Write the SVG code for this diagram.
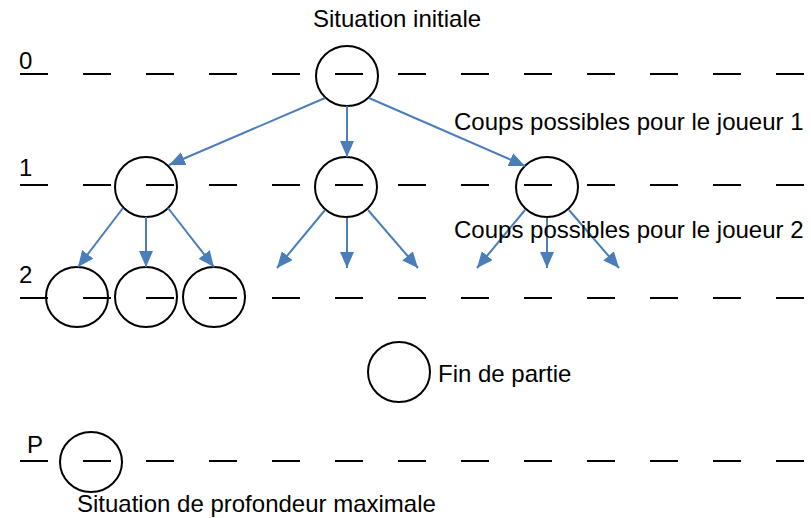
<svg xmlns="http://www.w3.org/2000/svg" width="811" height="518" viewBox="0 0 811 518">
  <style>
    .lvl { stroke: #000; stroke-width: 2; stroke-dasharray: 28 35; fill: none; }
    .node { fill: none; stroke: #000; stroke-width: 2; }
    .edge { stroke: #4A7EBB; stroke-width: 2; fill: none; marker-end: url(#arrow); }
    text { font-family: "Liberation Sans", Arial, sans-serif; font-size: 24px; fill: #000; }
  </style>
  <defs>
    <marker id="arrow" markerUnits="userSpaceOnUse" markerWidth="16" markerHeight="14" refX="16" refY="7" orient="auto">
      <path d="M0,0 L16,7 L0,14 z" fill="#4A7EBB"/>
    </marker>
  </defs>
  <rect width="811" height="518" fill="#fff"/>

  <!-- depth levels -->
  <g id="levels">
    <line class="lvl" x1="20" y1="74" x2="806" y2="74"/>
    <line class="lvl" x1="20" y1="185" x2="806" y2="185"/>
    <line class="lvl" x1="20" y1="298" x2="806" y2="298"/>
    <line class="lvl" x1="20" y1="461" x2="806" y2="461"/>
    <text x="19" y="69">0</text>
    <text x="19" y="176">1</text>
    <text x="19" y="283">2</text>
    <text x="27" y="453">P</text>
  </g>

  <!-- game tree nodes -->
  <g id="root"><ellipse class="node" cx="347" cy="76" rx="31" ry="30"/></g>
  <g id="n1a"><ellipse class="node" cx="146" cy="187" rx="31" ry="30"/></g>
  <g id="n1b"><ellipse class="node" cx="346" cy="187" rx="31" ry="30"/></g>
  <g id="n1c"><ellipse class="node" cx="547" cy="187" rx="31" ry="30"/></g>
  <g id="n2a"><ellipse class="node" cx="77" cy="297" rx="31" ry="30"/></g>
  <g id="n2b"><ellipse class="node" cx="146" cy="297" rx="31" ry="30"/></g>
  <g id="n2c"><ellipse class="node" cx="214" cy="297" rx="31" ry="30"/></g>
  <g id="end"><ellipse class="node" cx="399" cy="372" rx="31" ry="30"/></g>
  <g id="maxdepth"><ellipse class="node" cx="91" cy="462" rx="31" ry="30"/></g>

  <!-- moves -->
  <g id="edges">
    <line class="edge" x1="325" y1="98" x2="169" y2="165"/>
    <line class="edge" x1="347" y1="106" x2="347" y2="157"/>
    <line class="edge" x1="369" y1="98" x2="525" y2="166"/>

    <line class="edge" x1="123" y1="208" x2="78" y2="267"/>
    <line class="edge" x1="146" y1="217" x2="146" y2="267"/>
    <line class="edge" x1="168" y1="208" x2="214" y2="267"/>

    <line class="edge" x1="325" y1="210" x2="277" y2="268"/>
    <line class="edge" x1="347" y1="218" x2="347" y2="268"/>
    <line class="edge" x1="368" y1="210" x2="418" y2="268"/>

    <line class="edge" x1="525" y1="210" x2="477" y2="268"/>
    <line class="edge" x1="547" y1="218" x2="547" y2="268"/>
    <line class="edge" x1="569" y1="210" x2="619" y2="268"/>
  </g>

  <!-- captions -->
  <g id="captions">
    <text x="313" y="27">Situation initiale</text>
    <text x="454" y="130">Coups possibles pour le joueur 1</text>
    <text x="454" y="238">Coups possibles pour le joueur 2</text>
    <text x="438" y="382">Fin de partie</text>
    <text x="77" y="512">Situation de profondeur maximale</text>
  </g>
</svg>
